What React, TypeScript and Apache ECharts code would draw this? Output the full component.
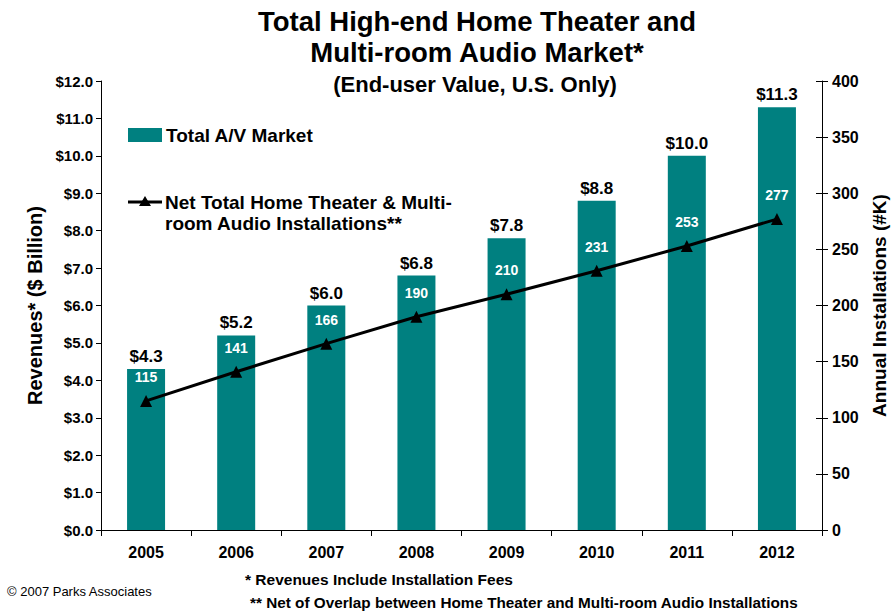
import React, { useEffect, useRef } from "react";
import * as echarts from "echarts";

const years = ["2005", "2006", "2007", "2008", "2009", "2010", "2011", "2012"];
const revenues = [4.3, 5.2, 6.0, 6.8, 7.8, 8.8, 10.0, 11.3];
const installations = [115, 141, 166, 190, 210, 231, 253, 277];

const FONT = "'Liberation Sans', Arial, sans-serif";
const TEAL = "#008080";

export default function App() {
  const ref = useRef<HTMLDivElement>(null);
  useEffect(() => {
    const chart = echarts.init(ref.current!, null, { renderer: "svg" });
    const axisLine = { show: true, lineStyle: { color: "#000", width: 1 } };
    chart.setOption({
      animation: false,
      textStyle: { fontFamily: FONT },
      title: [
        {
          text: "Total High-end Home Theater and\nMulti-room Audio Market*",
          left: 472,
          top: 1,
          textAlign: "center",
          textStyle: { fontFamily: FONT, fontSize: 27.5, fontWeight: "bold", color: "#000", lineHeight: 31 },
        },
        {
          text: "(End-user Value, U.S. Only)",
          left: 470,
          top: 68,
          textAlign: "center",
          textStyle: { fontFamily: FONT, fontSize: 22, fontWeight: "bold", color: "#000" },
        },
      ],
      grid: { left: 101, right: 69, top: 81, bottom: 83, outerBoundsMode: "none", containLabel: false },
      xAxis: {
        type: "category",
        data: years,
        axisLine,
        axisTick: { show: true, alignWithLabel: false, length: 6, lineStyle: { color: "#000" } },
        axisLabel: { fontFamily: FONT, fontSize: 16, fontWeight: "bold", color: "#000", margin: 14 },
        splitLine: { show: false },
      },
      yAxis: [
        {
          type: "value",
          min: 0,
          max: 12,
          interval: 1,
          position: "left",
          name: "Revenues* ($ Billion)",
          nameLocation: "middle",
          nameGap: 56,
          nameRotate: 90,
          nameTextStyle: { fontFamily: FONT, fontSize: 20, fontWeight: "bold", color: "#000" },
          axisLine,
          axisTick: { show: true, length: 5, lineStyle: { color: "#000" } },
          axisLabel: {
            fontFamily: FONT,
            fontSize: 15,
            fontWeight: "bold",
            color: "#000",
            margin: 8,
            formatter: (v: number) => "$" + v.toFixed(1),
          },
          splitLine: { show: false },
        },
        {
          type: "value",
          min: 0,
          max: 400,
          interval: 50,
          position: "right",
          name: "Annual Installations (#K)",
          nameLocation: "middle",
          nameGap: 46,
          nameRotate: 90,
          nameTextStyle: { fontFamily: FONT, fontSize: 19, fontWeight: "bold", color: "#000" },
          axisLine,
          axisTick: { show: true, length: 6, lineStyle: { color: "#000" } },
          axisLabel: { fontFamily: FONT, fontSize: 16, fontWeight: "bold", color: "#000", margin: 10 },
          splitLine: { show: false },
        },
        {
          type: "value",
          min: 0,
          max: 400,
          interval: 50,
          position: "right",
          axisLine: { show: false },
          axisTick: { show: true, inside: true, length: 6, lineStyle: { color: "#000" } },
          axisLabel: { show: false },
          splitLine: { show: false },
        },
      ],
      series: [
        {
          type: "bar",
          name: "Total A/V Market",
          data: revenues,
          yAxisIndex: 0,
          barWidth: 38,
          itemStyle: { color: TEAL },
          label: {
            show: true,
            position: "top",
            distance: 4,
            fontFamily: FONT,
            fontSize: 17,
            fontWeight: "bold",
            color: "#000",
            formatter: (p: any) => "$" + Number(p.value).toFixed(1),
          },
          z: 1,
        },
        {
          type: "line",
          name: "Net Total Home Theater & Multi-room Audio Installations**",
          data: installations,
          yAxisIndex: 1,
          symbol: "triangle",
          symbolSize: 12,
          lineStyle: { color: "#000", width: 3 },
          itemStyle: { color: "#000" },
          label: {
            show: true,
            position: "top",
            distance: 11,
            fontFamily: FONT,
            fontSize: 14,
            fontWeight: "bold",
            color: "#fff",
          },
          z: 3,
        },
      ],
      graphic: [
        { type: "rect", shape: { x: 128, y: 128, width: 34, height: 14 }, style: { fill: TEAL } },
        {
          type: "text",
          x: 166,
          y: 135,
          style: { text: "Total A/V Market", font: `bold 19px ${FONT}`, fill: "#000", textVerticalAlign: "middle" },
        },
        { type: "line", shape: { x1: 128, y1: 202, x2: 162, y2: 202 }, style: { stroke: "#000", lineWidth: 3 } },
        {
          type: "polygon",
          shape: { points: [[145, 196], [139, 206], [151, 206]] },
          style: { fill: "#000" },
        },
        {
          type: "text",
          x: 165,
          y: 192,
          style: {
            text: "Net Total Home Theater & Multi-\nroom Audio Installations**",
            font: `bold 19px ${FONT}`,
            lineHeight: 21,
            fill: "#000",
          },
        },
        {
          type: "text",
          x: 245,
          y: 571,
          style: { text: "* Revenues Include Installation Fees", font: `bold 15.5px ${FONT}`, fill: "#000" },
        },
        {
          type: "text",
          x: 250,
          y: 595,
          style: {
            text: "** Net of Overlap between Home Theater and Multi-room Audio Installations",
            font: `bold 15.3px ${FONT}`,
            fill: "#000",
          },
        },
        {
          type: "text",
          x: 7,
          y: 585,
          style: { text: "© 2007 Parks Associates", font: `13px ${FONT}`, fill: "#000" },
        },
      ],
    });
    return () => chart.dispose();
  }, []);
  return <div ref={ref} style={{ width: 891, height: 613, position: "absolute", left: 0, top: 0 }} />;
}
